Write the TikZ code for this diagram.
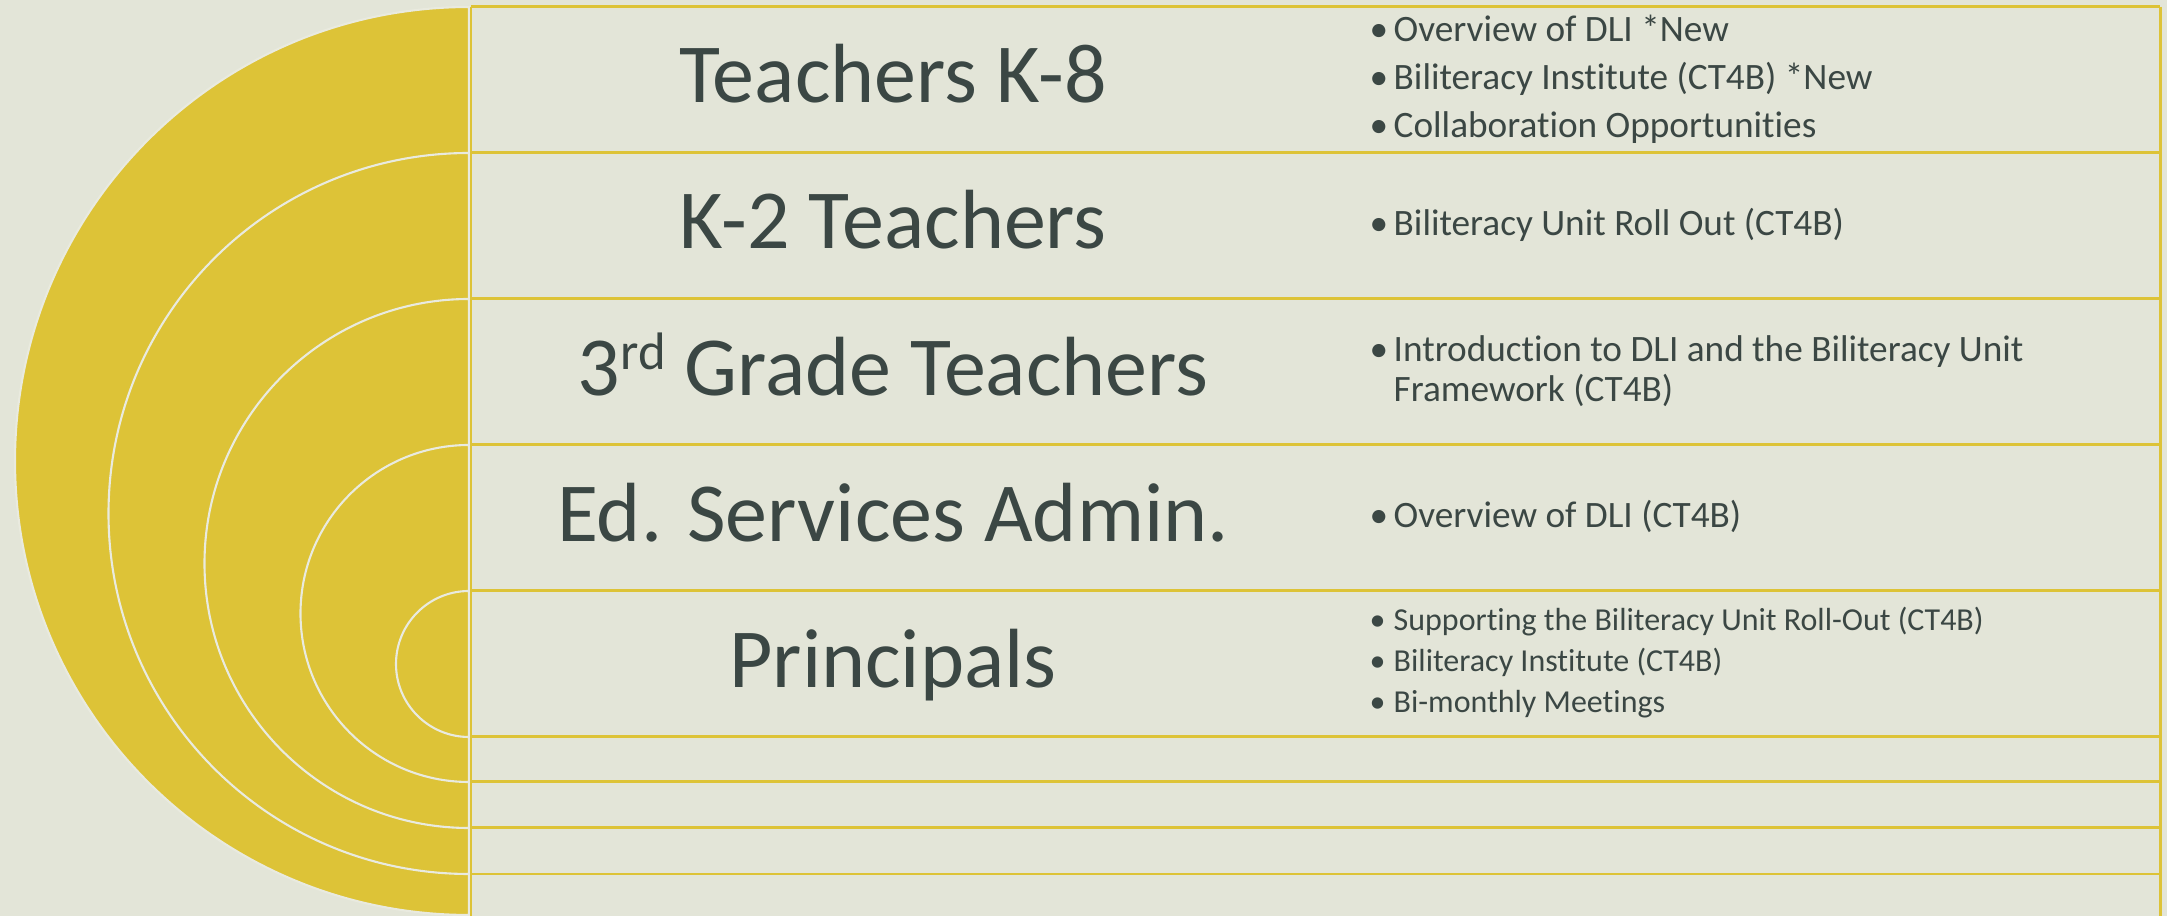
\documentclass[tikz,border=0pt]{standalone}
\usepackage{fontspec}
\setmainfont{Carlito}[Ligatures=NoCommon]
\definecolor{paper}{HTML}{E3E5D8}
\definecolor{gold}{HTML}{DDC337}
\definecolor{ink}{HTML}{3B4744}
\definecolor{rim}{HTML}{E9EADF}
\newcommand{\bul}{\makebox[0.21cm][l]{\kern-0.03cm\textbullet}}
\begin{document}
\begin{tikzpicture}[
    grp/.style={anchor=base,text=ink,font=\fontsize{23.9}{28}\selectfont},
    item/.style={anchor=base west,text=ink,align=left,inner sep=0pt,font=\fontsize{10.6}{11.4}\selectfont},
    small/.style={font=\fontsize{9.1}{11.7}\selectfont},
    rule/.style={gold,line width=0.85pt},
    ring/.style={rim,line width=0.6pt,fill=gold}]
    \useasboundingbox(0,0)rectangle(21.67,-9.16);
    \fill[paper](0,0)rectangle(21.67,-9.16);
    % nested half discs, biggest first
    \foreach \t/\r in {0.07/4.54,1.53/3.605,2.99/2.645,4.45/1.685,5.91/0.73}
        \draw[ring](4.69,-\t)arc[start angle=90,end angle=270,radius=\r]--cycle;
    % table rules
    \foreach \y in {0.07,1.53,2.99,4.45,5.91,7.37,7.82,8.28,8.74}
        \draw[rule](4.71,-\y)--(21.60,-\y);
    \draw[rule](4.71,-0.07)--(4.71,-9.16);
    \draw[rule](21.60,-0.07)--(21.60,-9.16);
    % groups
    \node[grp](1)at(8.93,-1.03){Teachers K-8};
    \node[grp](2)at(8.93,-2.49){K-2 Teachers};
    \node[grp](3)at(8.93,-3.96){3\raisebox{0.26cm}{\fontsize{15}{15}\selectfont rd} Grade Teachers};
    \node[grp](4)at(8.93,-5.42){Ed. Services Admin.};
    \node[grp](5)at(8.93,-6.88){Principals};
    % offerings (base of a two-line node sits on its last line)
    \node[item](1a)at(13.72,-0.42){\bul Overview of DLI *New};
    \node[item](1b)at(13.72,-0.90){\bul Biliteracy Institute (CT4B) *New};
    \node[item](1c)at(13.72,-1.38){\bul Collaboration Opportunities};
    \node[item](2a)at(13.72,-2.36){\bul Biliteracy Unit Roll Out (CT4B)};
    \node[item](3a)at(13.72,-4.02){\bul Introduction to DLI and the Biliteracy Unit\\\hphantom{\bul}Framework (CT4B)};
    \node[item](4a)at(13.72,-5.28){\bul Overview of DLI (CT4B)};
    \node[item,small](5a)at(13.72,-6.31){\bul Supporting the Biliteracy Unit Roll-Out (CT4B)};
    \node[item,small](5b)at(13.72,-6.72){\bul Biliteracy Institute (CT4B)};
    \node[item,small](5c)at(13.72,-7.13){\bul Bi-monthly Meetings};
\end{tikzpicture}
\end{document}
